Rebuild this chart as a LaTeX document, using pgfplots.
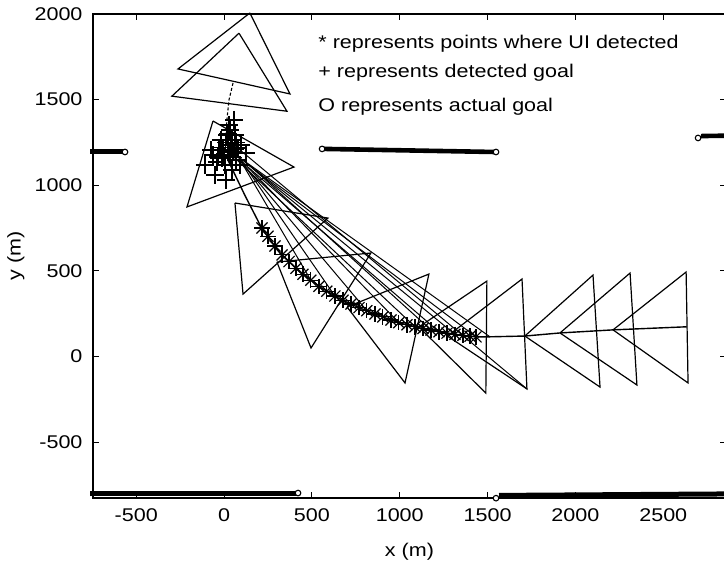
\documentclass[border=0pt]{standalone}
\usepackage{fontspec}
\setmainfont{Liberation Sans}[FakeStretch=1.17]
\usepackage{pgfplots}
\pgfplotsset{compat=1.18}
\begin{document}
\fontsize{9.2}{11}\selectfont
\begin{tikzpicture}
\useasboundingbox (-46.5pt,-32pt) rectangle (315.5pt,249pt);
\begin{axis}[
  scale only axis, width=316.5pt, height=242pt,
  xmin=-746, xmax=2857, ymin=-827, ymax=2000,
  clip=false,
  xtick={-500,0,500,1000,1500,2000,2500},
  xticklabels={-500,0,500,1000,1500,2000,2500},
  ytick={-500,0,500,1000,1500,2000},
  yticklabels={-500,0,500,1000,1500,2000},
  minor tick num=0,
  tick align=inside, major tick length=3pt,
  tick style={line width=0.5pt, black},
  axis line style={line width=0.7pt},
  ticklabel style={font=\fontsize{9.2}{11}\selectfont},
  xticklabel style={yshift=-2.3pt},
  yticklabel style={xshift=-2pt},
  xlabel={x (m)}, ylabel={y (m)},
  label style={font=\fontsize{9.2}{11}\selectfont},
  xlabel style={at={(axis description cs:0.5,-0.11)}, anchor=center},
  ylabel style={at={(axis description cs:-0.122,0.5)}, anchor=center},
]
% goal lines
\addplot[black, line width=2.5pt, line cap=butt] coordinates {(-762,1194) (-570,1194)};
\addplot[black, line width=2.3pt] coordinates {(570,1212) (1540,1194)};
\addplot[black, line width=2.3pt] coordinates {(2715,1287) (2900,1290)};
\addplot[black, line width=2.5pt, line cap=butt] coordinates {(-762,-800) (415,-800)};
\addplot[black, line width=2.5pt] coordinates {(1565,-812) (2900,-803)};
\addplot[only marks, mark=*, mark size=1.4pt, mark options={fill=white, draw=black, line width=0.55pt}]
  coordinates {(-564,1194) (558,1212) (1548,1194) (2698,1276) (421,-798) (1548,-828)};
% triangles
\addplot[black, line width=0.6pt] coordinates {(147,2006) (-262,1679) (375,1533) (147,2006)};
\addplot[black, line width=0.6pt] coordinates {(85,1888) (-297,1520) (358,1432) (85,1888)};
\addplot[black, line width=0.6pt] coordinates {(-63,1375) (398,1106) (-211,873) (-63,1375)};
\addplot[black, line width=0.6pt] coordinates {(62,896) (591,808) (108,364) (62,896)};
\addplot[black, line width=0.6pt] coordinates {(301,551) (836,604) (495,49) (301,551)};
\addplot[black, line width=0.6pt] coordinates {(700,289) (1166,481) (1030,-155) (700,289)};
\addplot[black, line width=0.6pt] coordinates {(1109,172) (1496,440) (1490,-214) (1109,172)};
\addplot[black, line width=0.6pt] coordinates {(1271,119) (1696,452) (1724,-190) (1271,119)};
\addplot[black, line width=0.6pt] coordinates {(1712,119) (2100,475) (2140,-179) (1712,119)};
\addplot[black, line width=0.6pt] coordinates {(1912,137) (2311,487) (2350,-167) (1912,137)};
\addplot[black, line width=0.6pt] coordinates {(2214,155) (2630,493) (2641,-155) (2214,155)};
% lines from detected goals to detection points
\addplot[black, line width=0.5pt] coordinates {(108,1147) (1514,114)};
\addplot[black, line width=0.5pt] coordinates {(125,1130) (1434,114)};
\addplot[black, line width=0.5pt] coordinates {(91,1159) (1314,129)};
\addplot[black, line width=0.5pt] coordinates {(136,1106) (1223,144)};
\addplot[black, line width=0.5pt] coordinates {(68,1176) (995,197)};
\addplot[black, line width=0.5pt] coordinates {(113,1118) (813,267)};
\addplot[black, line width=0.5pt] coordinates {(100,1140) (631,353)};
\addplot[black, line width=0.5pt] coordinates {(90,1150) (494,445)};
\addplot[black, line width=0.5pt] coordinates {(60,1160) (1087,173)};
\addplot[black, line width=0.5pt] coordinates {(140,1120) (1178,154)};
\addplot[black, line width=0.5pt] coordinates {(60,1232) (1724,-190)};
% trajectory
\addplot[black, line width=0.55pt, dash pattern=on 1.5pt off 1pt] coordinates {(51,1597) (28,1497) (16,1380) (11,1293)};
\addplot[black, line width=0.7pt] coordinates {(22,1147) (118,942) (214,750) (318,604) (432,493) (546,405) (660,335) (774,282) (888,236) (1001,195) (1115,166) (1229,143) (1343,125) (1445,113) (1713,119) (1912,137) (2214,155) (2633,173)};
% detected goals
\addplot[only marks, mark=+, mark size=4.5pt, mark options={line width=0.65pt}] coordinates {
(-75,1206) (-35,1165) (-6,1206) (34,1322) (45,1264) (22,1235) (68,1147) (125,1188)
(-41,1136) (11,1031) (-63,1176) (-18,1264) (56,1381) (28,1352) (79,1217) (5,1118)
(45,1089) (96,1235) (-29,1206) (17,1293) (62,1293) (34,1176) (91,1118) (-12,1159)
(51,1194) (-109,1118) (-52,1060) (40,1230) (70,1250) (10,1250) (30,1200) (50,1160)
(20,1300) (-20,1220) (60,1210) (0,1170)};
% detection points
\addplot[only marks, mark=+, mark size=3.9pt, mark options={line width=0.6pt}] coordinates {
(216,750) (250,702) (290,645) (330,593) (370,554) (409,515) (449,480) (494,445) (540,409)
(585,381) (631,353) (677,328) (722,306) (768,285) (813,267) (859,248) (904,231) (950,213)
(995,197) (1041,185) (1087,173) (1132,163) (1178,154) (1223,144) (1269,136) (1314,129)
(1360,123) (1400,118) (1434,114)};
\addplot[only marks, mark=x, mark size=3.9pt, mark options={line width=0.6pt}] coordinates {
(216,750) (250,702) (290,645) (330,593) (370,554) (409,515) (449,480) (494,445) (540,409)
(585,381) (631,353) (677,328) (722,306) (768,285) (813,267) (859,248) (904,231) (950,213)
(995,197) (1041,185) (1087,173) (1132,163) (1178,154) (1223,144) (1269,136) (1314,129)
(1360,123) (1400,118) (1434,114)};
% annotations
\node[anchor=west, font=\fontsize{9.2}{11}\selectfont, inner sep=0pt] at (axis cs:535,1829) {* represents points where UI detected};
\node[anchor=west, font=\fontsize{9.2}{11}\selectfont, inner sep=0pt] at (axis cs:535,1654) {+ represents detected goal};
\node[anchor=west, font=\fontsize{9.2}{11}\selectfont, inner sep=0pt] at (axis cs:535,1459) {O represents actual goal};
\end{axis}
\end{tikzpicture}
\end{document}
